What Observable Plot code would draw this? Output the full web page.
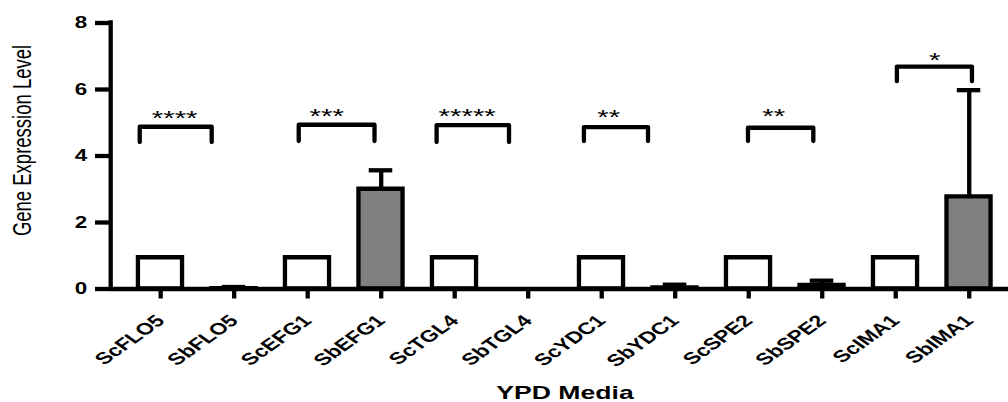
<!DOCTYPE html>
<html>
<head>
<meta charset="utf-8">
<script src="https://cdn.jsdelivr.net/npm/d3@7"></script>
<script src="https://cdn.jsdelivr.net/npm/@observablehq/plot@0.6"></script>
<style>
  html, body { margin: 0; padding: 0; background: #fff; }
  #chart svg * { vector-effect: non-scaling-stroke; }
</style>
</head>
<body>
<div id="chart"></div>
<script>
// ---- data ----
const genes   = ["ScFLO5","SbFLO5","ScEFG1","SbEFG1","ScTGL4","SbTGL4","ScYDC1","SbYDC1","ScSPE2","SbSPE2","ScIMA1","SbIMA1"];
const species = ["Sc","Sb","Sc","Sb","Sc","Sb","Sc","Sb","Sc","Sb","Sc","Sb"];
const means   = [0.94, 0.01, 0.94, 3.0, 0.94, 0, 0.94, 0.03, 0.94, 0.11, 0.94, 2.77];
const errTops = [0, 0.06, 0, 3.57, 0, 0, 0, 0.13, 0, 0.25, 0, 5.98];
const yTicks  = [0, 2, 4, 6, 8];

// significance brackets (positions in category units / y units)
const bracketLeft  = [-0.285, 1.878, 3.754, 5.758, 7.99, 10.016];
const bracketRight = [0.694, 2.909, 4.739, 6.63, 8.879, 11.037];
const bracketTop   = [4.88, 4.94, 4.93, 4.87, 4.85, 6.69];
const bracketLeg   = [4.42, 4.45, 4.42, 4.45, 4.45, 6.25];
const starX        = [0.19, 2.259, 4.17, 6.095, 8.34, 10.531];
const starY        = [5.29, 5.36, 5.36, 5.31, 5.34, 7.03];
const starText     = ["****", "***", "*****", "**", "**", "*"];

const yLabel = "Gene Expression Level";
const xLabel = "YPD Media";
const xLabelPos = 5.5;

// ---- build tables ----
const idx = d3.range(genes.length);
const bars = idx.map(i => ({i, gene: genes[i], sp: species[i], mean: means[i], top: errTops[i]}));
const errs = bars.filter(d => d.top > d.mean);
const bracketPts = d3.range(bracketLeft.length).flatMap(k => [
  {k, x: bracketLeft[k],  y: bracketLeg[k]},
  {k, x: bracketLeft[k],  y: bracketTop[k]},
  {k, x: bracketRight[k], y: bracketTop[k]},
  {k, x: bracketRight[k], y: bracketLeg[k]}
]);
const stars = d3.range(starText.length).map(k => ({x: starX[k], y: starY[k], t: starText[k]}));

const S = 1.4;            // horizontal stretch of the reference figure
const W = 1008 / S;
const xDomain = [-0.68, 11.537];
const SW = 4.3;

const svg = Plot.plot({
  width: W,
  height: 402,
  marginLeft: 110 / S,
  marginRight: 0,
  marginTop: 22.5,
  marginBottom: 113.5,
  style: {fontFamily: "'Liberation Sans', Arial, sans-serif", background: "#fff", color: "#000"},
  x: {type: "linear", domain: xDomain, axis: null},
  y: {domain: [0, 8], axis: null},
  color: {type: "identity"},
  marks: [
    Plot.rectY(bars, {
      x1: d => d.i - 0.3, x2: d => d.i + 0.3, y1: 0, y2: "mean",
      fill: d => d.sp === "Sc" ? "#ffffff" : "#808080",
      stroke: "#000", strokeWidth: SW
    }),
    Plot.ruleX(errs, {x: "i", y1: "mean", y2: "top", stroke: "#000", strokeWidth: SW}),
    Plot.ruleY(errs, {y: "top", x1: d => d.i - 0.16, x2: d => d.i + 0.16, stroke: "#000", strokeWidth: SW}),
    Plot.ruleY([0], {stroke: "#000", strokeWidth: SW}),
    Plot.ruleX([xDomain[0]], {y1: 0, y2: 8, stroke: "#000", strokeWidth: SW, strokeLinecap: "square"}),
    Plot.axisY(yTicks, {tickSize: 10.7, tickPadding: 6, strokeWidth: SW, fontSize: 16, fontWeight: "bold", label: null}),
    Plot.axisX(idx, {tickFormat: i => genes[i], tickRotate: -45, tickSize: 10, tickPadding: 19, strokeWidth: SW,
                     fontSize: 16.5, fontWeight: "bold", label: null}),
    Plot.line(bracketPts, {x: "x", y: "y", z: "k", stroke: "#000", strokeWidth: SW, strokeLinejoin: "round"}),
    Plot.text(stars, {x: "x", y: "y", text: "t", fontSize: 21, dy: 5}),
    Plot.text([yLabel], {frameAnchor: "left", textAnchor: "middle", rotate: -90, dx: -63, dy: -15.5, fontSize: 18.5}),
    Plot.text([{x: xLabelPos, label: xLabel}], {x: "x", text: "label", frameAnchor: "bottom", lineAnchor: "bottom",
                 dy: 109.5, fontSize: 19, fontWeight: "bold"})
  ]
});

svg.setAttribute("width", 1008);
svg.setAttribute("height", 402);
svg.setAttribute("preserveAspectRatio", "none");
svg.style.maxWidth = "none";
svg.style.width = "1008px";
svg.style.height = "402px";
document.getElementById("chart").appendChild(svg);
</script>
</body>
</html>
